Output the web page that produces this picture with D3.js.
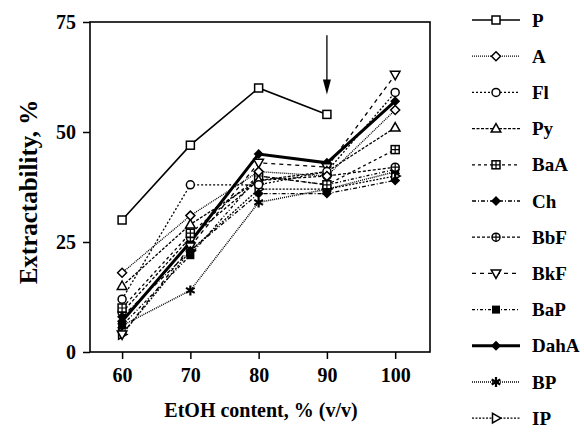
<!DOCTYPE html>
<html>
<head>
<meta charset="utf-8">
<script src="https://cdn.jsdelivr.net/npm/d3@7"></script>
<style>
  body { margin: 0; background: #fff; }
  text { font-family: "Liberation Serif", "Times New Roman", serif; font-weight: bold; }
</style>
</head>
<body>
<script>
var xValues = [60, 70, 80, 90, 100];
var seriesNames = ["P", "A", "Fl", "Py", "BaA", "Ch", "BbF", "BkF", "BaP", "DahA", "BP", "IP"];
var P    = [30, 47, 60, 54, null];
var A    = [18, 31, 41, 40, 55];
var Fl   = [12, 38, 38, 41, 59];
var Py   = [15, 29, 39, 41, 51];
var BaA  = [10, 27, 40, 38, 46];
var Ch   = [8, 23, 36, 36, 39];
var BbF  = [9, 26, 39, 40, 42];
var BkF  = [4, 24, 43, 42, 63];
var BaP  = [6, 22, 40, 38, 41.5];
var DahA = [7, 25, 45, 43, 57];
var BP   = [6, 14, 34, 37, 41];
var IP   = [4, 23, 37, 37, 40];
var xTicks = [60, 70, 80, 90, 100];
var yTicks = [0, 25, 50, 75];
var arrowX = 90, arrowFrom = 72, arrowTo = 58.5;

const WIDTH = 584;
const HEIGHT = 441;
const LEFT = 90, RIGHT = 430, TOP = 22, BOTTOM = 352;

var allValues = [P, A, Fl, Py, BaA, Ch, BbF, BkF, BaP, DahA, BP, IP];

// line style + marker per series
var styles = {
  P:    { dash: null,      w: 1.6, marker: "square" },
  A:    { dash: "1,1",     w: 1.3, marker: "diamond" },
  Fl:   { dash: "2,2",     w: 1.3, marker: "circle" },
  Py:   { dash: "3,1.5",   w: 1.3, marker: "triangle" },
  BaA:  { dash: "3,3",     w: 1.3, marker: "squareplus" },
  Ch:   { dash: "4,2,1,2", w: 1.3, marker: "diamondfill" },
  BbF:  { dash: "3,2",     w: 1.3, marker: "circleplus" },
  BkF:  { dash: "4,4",     w: 1.3, marker: "triangledown" },
  BaP:  { dash: "3,2,1,2", w: 1.3, marker: "squarefill" },
  DahA: { dash: null,      w: 3,   marker: "diamondfill" },
  BP:   { dash: "1,1",     w: 1.5, marker: "asterisk" },
  IP:   { dash: "2,1.5",   w: 1.3, marker: "triangleright" }
};

var x = d3.scaleLinear().domain([55.3, 105.1]).range([LEFT, RIGHT]);
var y = d3.scaleLinear().domain([0, 75]).range([BOTTOM, TOP]);

var svg = d3.select("body").append("svg")
  .attr("width", WIDTH)
  .attr("height", HEIGHT);

// axes
var xAxis = d3.axisBottom(x).tickValues(xTicks).tickSize(7).tickSizeOuter(0);
var yAxis = d3.axisLeft(y).tickValues(yTicks).tickSize(7).tickSizeOuter(0);

var gx = svg.append("g").attr("transform", "translate(0," + BOTTOM + ")").call(xAxis);
var gy = svg.append("g").attr("transform", "translate(" + LEFT + ",0)").call(yAxis);
gx.select(".domain").remove();
gy.select(".domain").remove();
[gx, gy].forEach(function (g) {
  g.selectAll("line").attr("stroke", "#000").attr("stroke-width", 1.5);
  g.selectAll("text").attr("font-size", 20).attr("font-family", "Liberation Serif")
    .attr("font-weight", "bold").attr("fill", "#000");
});
gx.selectAll("text").attr("dy", "1.0em");
gy.selectAll("text").attr("dx", "-0.2em");

svg.append("rect")
  .attr("x", LEFT).attr("y", TOP)
  .attr("width", RIGHT - LEFT).attr("height", BOTTOM - TOP)
  .attr("fill", "none").attr("stroke", "#000").attr("stroke-width", 1.6);

svg.append("text")
  .attr("x", (LEFT + RIGHT) / 2 + 1).attr("y", 417)
  .attr("text-anchor", "middle").attr("font-size", 20)
  .text("EtOH content, % (v/v)");

svg.append("text")
  .attr("transform", "translate(37," + ((TOP + BOTTOM) / 2 + 5) + ") rotate(-90)")
  .attr("text-anchor", "middle").attr("font-size", 25)
  .text("Extractability, %");

var drawMarker = function (g, type, cx, cy) {
  var m = g.append("g").attr("transform", "translate(" + cx + "," + cy + ")");
  var s = 4;
  switch (type) {
    case "square":
      m.append("rect").attr("x", -s).attr("y", -s).attr("width", 2 * s).attr("height", 2 * s)
        .attr("fill", "#fff").attr("stroke", "#000").attr("stroke-width", 1.5);
      break;
    case "squarefill":
      m.append("rect").attr("x", -s).attr("y", -s).attr("width", 2 * s).attr("height", 2 * s)
        .attr("fill", "#000");
      break;
    case "squareplus":
      m.append("rect").attr("x", -s).attr("y", -s).attr("width", 2 * s).attr("height", 2 * s)
        .attr("fill", "#fff").attr("stroke", "#000").attr("stroke-width", 1.5);
      m.append("path").attr("d", "M" + (-s) + ",0H" + s + "M0," + (-s) + "V" + s)
        .attr("stroke", "#000").attr("stroke-width", 1.2);
      break;
    case "circle":
      m.append("circle").attr("r", s).attr("fill", "#fff").attr("stroke", "#000").attr("stroke-width", 1.5);
      break;
    case "circleplus":
      m.append("circle").attr("r", s).attr("fill", "#fff").attr("stroke", "#000").attr("stroke-width", 1.5);
      m.append("path").attr("d", "M" + (-s) + ",0H" + s + "M0," + (-s) + "V" + s)
        .attr("stroke", "#000").attr("stroke-width", 1.2);
      break;
    case "diamond":
      m.append("path").attr("d", "M0,-4.5L4.5,0L0,4.5L-4.5,0Z")
        .attr("fill", "#fff").attr("stroke", "#000").attr("stroke-width", 1.5);
      break;
    case "diamondfill":
      m.append("path").attr("d", "M0,-5L5,0L0,5L-5,0Z").attr("fill", "#000");
      break;
    case "triangle":
      m.append("path").attr("d", "M0,-5L4.8,3.5L-4.8,3.5Z")
        .attr("fill", "#fff").attr("stroke", "#000").attr("stroke-width", 1.5);
      break;
    case "triangledown":
      m.append("path").attr("d", "M0,5L4.8,-3.5L-4.8,-3.5Z")
        .attr("fill", "#fff").attr("stroke", "#000").attr("stroke-width", 1.5);
      break;
    case "triangleright":
      m.append("path").attr("d", "M5,0L-3.5,4.8L-3.5,-4.8Z")
        .attr("fill", "#fff").attr("stroke", "#000").attr("stroke-width", 1.5);
      break;
    case "asterisk":
      m.append("path").attr("d", d3.symbol(d3.symbolAsterisk, 70)())
        .attr("fill", "none").attr("stroke", "#000").attr("stroke-width", 2.2);
      break;
  }
};

var line = d3.line()
  .defined(function (d) { return d !== null; })
  .x(function (d, i) { return x(xValues[i]); })
  .y(function (d) { return y(d); });

// draw series (reverse so P ends on top)
var plot = svg.append("g");
seriesNames.slice().reverse().forEach(function (name) {
  var vals = allValues[seriesNames.indexOf(name)];
  var st = styles[name];
  plot.append("path")
    .attr("d", line(vals))
    .attr("fill", "none")
    .attr("stroke", "#000")
    .attr("stroke-width", st.w)
    .attr("stroke-dasharray", st.dash);
  vals.forEach(function (v, i) {
    if (v !== null) drawMarker(plot, st.marker, x(xValues[i]), y(v));
  });
});

// arrow marking 90%
var ax = x(arrowX);
svg.append("line")
  .attr("x1", ax).attr("x2", ax)
  .attr("y1", y(arrowFrom)).attr("y2", y(arrowTo) - 12)
  .attr("stroke", "#000").attr("stroke-width", 1.3);
svg.append("path")
  .attr("d", "M" + ax + "," + y(arrowTo) + "L" + (ax - 4) + "," + (y(arrowTo) - 15) +
    "L" + (ax + 4) + "," + (y(arrowTo) - 15) + "Z")
  .attr("fill", "#000");

// legend
var legend = svg.append("g");
seriesNames.forEach(function (name, i) {
  var ly = 20 + i * 36.2;
  var st = styles[name];
  legend.append("line")
    .attr("x1", 472).attr("x2", 520).attr("y1", ly).attr("y2", ly)
    .attr("stroke", "#000").attr("stroke-width", st.w)
    .attr("stroke-dasharray", st.dash);
  drawMarker(legend, st.marker, 496, ly);
  legend.append("text")
    .attr("x", 532).attr("y", ly).attr("dy", "0.35em")
    .attr("font-size", 19)
    .text(name);
});
</script>
</body>
</html>
